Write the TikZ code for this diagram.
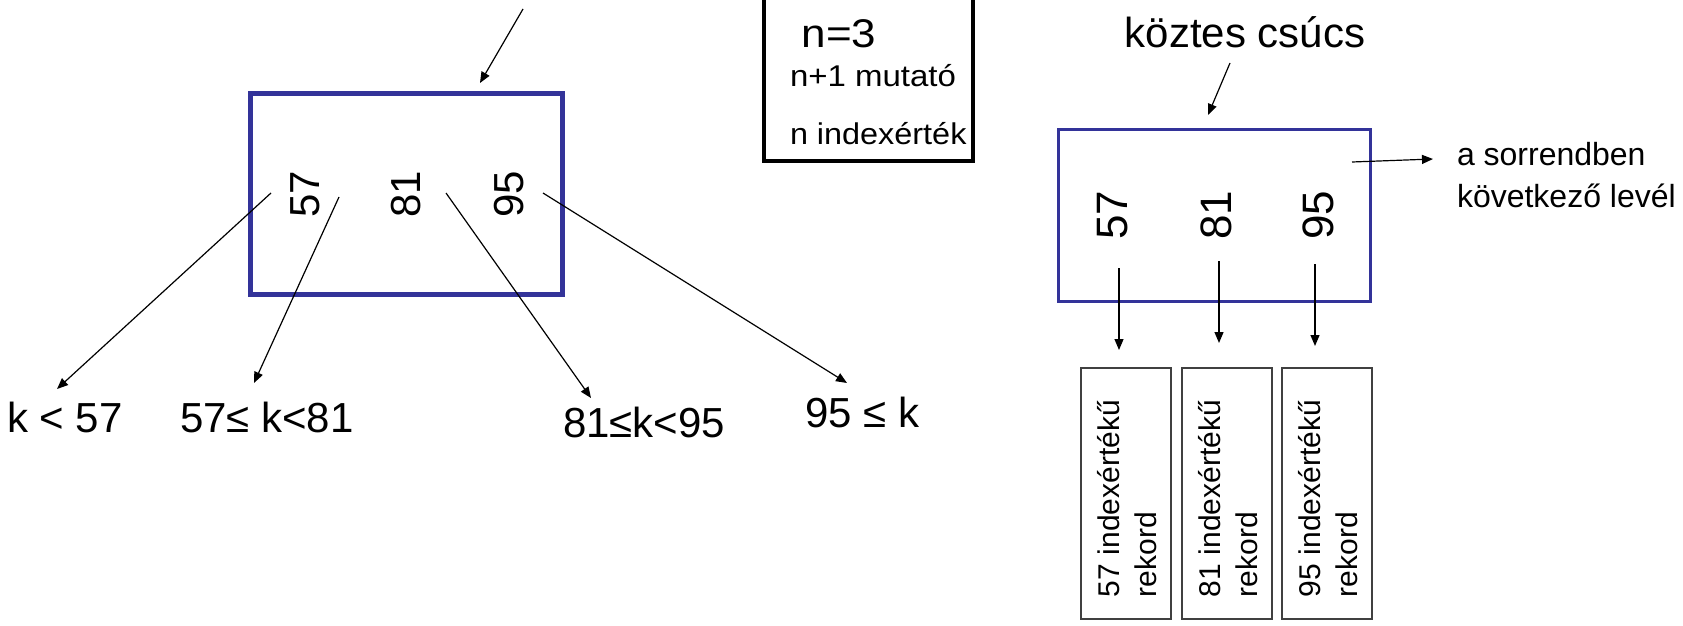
\documentclass[tikz,border=0pt]{standalone}
\usepackage{fontspec}
\setmainfont{Liberation Sans}
\usetikzlibrary{arrows.meta}
\definecolor{boxblue}{RGB}{51,51,153}
\definecolor{recgray}{RGB}{64,64,64}
\begin{document}
\begin{tikzpicture}[x=0.5pt,y=-0.5pt,
  arr/.style={draw=black,line width=0.6pt,-{Triangle[length=5.5pt,width=4.5pt]}},
  txt/.style={inner sep=0pt,outer sep=0pt},
  bignum/.style={txt,rotate=90,font=\fontsize{21pt}{25pt}\selectfont},
  rnum/.style={txt,rotate=90,font=\fontsize{22pt}{26pt}\selectfont},
  lab/.style={txt,anchor=base west,font=\fontsize{21pt}{25pt}\selectfont},
  legsmall/.style={txt,anchor=base west,font=\fontsize{15pt}{18pt}\selectfont},
  side/.style={txt,anchor=base west,font=\fontsize{16pt}{19pt}\selectfont},
  rectxt/.style={txt,rotate=90,anchor=base west,font=\fontsize{15pt}{18pt}\selectfont},
  recbox/.style={draw=recgray,line width=0.65pt,minimum width=45pt,minimum height=125.5pt,inner sep=0pt},
]
\useasboundingbox (0,0) rectangle (1683,626);
\clip (0,0) rectangle (1683,626);
\fill[white] (0,0) rectangle (1683,626);

% ---------- left node ----------
\node[draw=boxblue,line width=2.5pt,minimum width=156pt,minimum height=100pt,inner sep=0pt] (lbox) at (406,194) {};
\node[bignum] (l57) at (305,194) {57};
\node[bignum] (l81) at (406,194) {81};
\node[bignum] (l95) at (509,194) {95};

\coordinate (ltopS) at (523,9);
\coordinate (ltopE) at (480,83);
\draw[arr] (ltopS) -- (ltopE);

\coordinate (p1) at (271,193);
\coordinate (p2) at (339,197);
\coordinate (p3) at (446,193);
\coordinate (p4) at (543,193);
\coordinate (t1) at (57,389);
\coordinate (t2) at (254,383);
\coordinate (t3) at (591,398);
\coordinate (t4) at (847,383);
\draw[arr] (p1) -- (t1);
\draw[arr] (p2) -- (t2);
\draw[arr] (p3) -- (t3);
\draw[arr] (p4) -- (t4);

\node[lab] (k1) at (7,432) {k < 57};
\node[lab] (k2) at (180,432) {57≤ k<81};
\node[lab] (k3) at (563,437) {81≤k<95};
\node[lab] (k4) at (805,427) {95 ≤ k};

% ---------- legend ----------
\node[draw=black,line width=2pt,minimum width=104.5pt,minimum height=90.5pt,inner sep=0pt] (leg) at (868.5,70.5) {};
\node[txt,anchor=base,font=\fontsize{20pt}{24pt}\selectfont] (n3) at (839,48) {\scalebox{1.1}[1]{n=3}};
\node[legsmall] (nm) at (790,87) {\scalebox{1.1}[1]{n+1 mutató}};
\node[legsmall] (ni) at (790,145) {\scalebox{1.08}[1]{n indexérték}};

% ---------- right node ----------
\node[txt,anchor=base,font=\fontsize{21pt}{25pt}\selectfont] (kc) at (1245,48) {köztes csúcs};
\coordinate (rtopS) at (1230,63);
\coordinate (rtopE) at (1208,115);
\draw[arr] (rtopS) -- (rtopE);

\node[draw=boxblue,line width=1.75pt,minimum width=156pt,minimum height=86pt,inner sep=0pt] (rbox) at (1214.5,215.5) {};
\node[rnum] (r57) at (1113,215) {57};
\node[rnum] (r81) at (1216,215) {81};
\node[rnum] (r95) at (1318,215) {95};

\coordinate (nxS) at (1352,162);
\coordinate (nxE) at (1433,159);
\draw[arr] (nxS) -- (nxE);
\node[side] (s1) at (1457,166) {a sorrendben};
\node[side] (s2) at (1457,207) {következő levél};

\coordinate (d1S) at (1119,268);
\coordinate (d1E) at (1119,350);
\coordinate (d2S) at (1219,261);
\coordinate (d2E) at (1219,343);
\coordinate (d3S) at (1315,264);
\coordinate (d3E) at (1315,346);
\draw[arr] (d1S) -- (d1E);
\draw[arr] (d2S) -- (d2E);
\draw[arr] (d3S) -- (d3E);

\node[recbox] (rec1) at (1126,493.5) {};
\node[recbox] (rec2) at (1227,493.5) {};
\node[recbox] (rec3) at (1327,493.5) {};

\node[rectxt] (rt1a) at (1119,597) {57 indexértékű};
\node[rectxt] (rt1b) at (1156,597) {rekord};
\node[rectxt] (rt2a) at (1220,597) {81 indexértékű};
\node[rectxt] (rt2b) at (1257,597) {rekord};
\node[rectxt] (rt3a) at (1320,597) {95 indexértékű};
\node[rectxt] (rt3b) at (1357,597) {rekord};
\end{tikzpicture}
\end{document}
